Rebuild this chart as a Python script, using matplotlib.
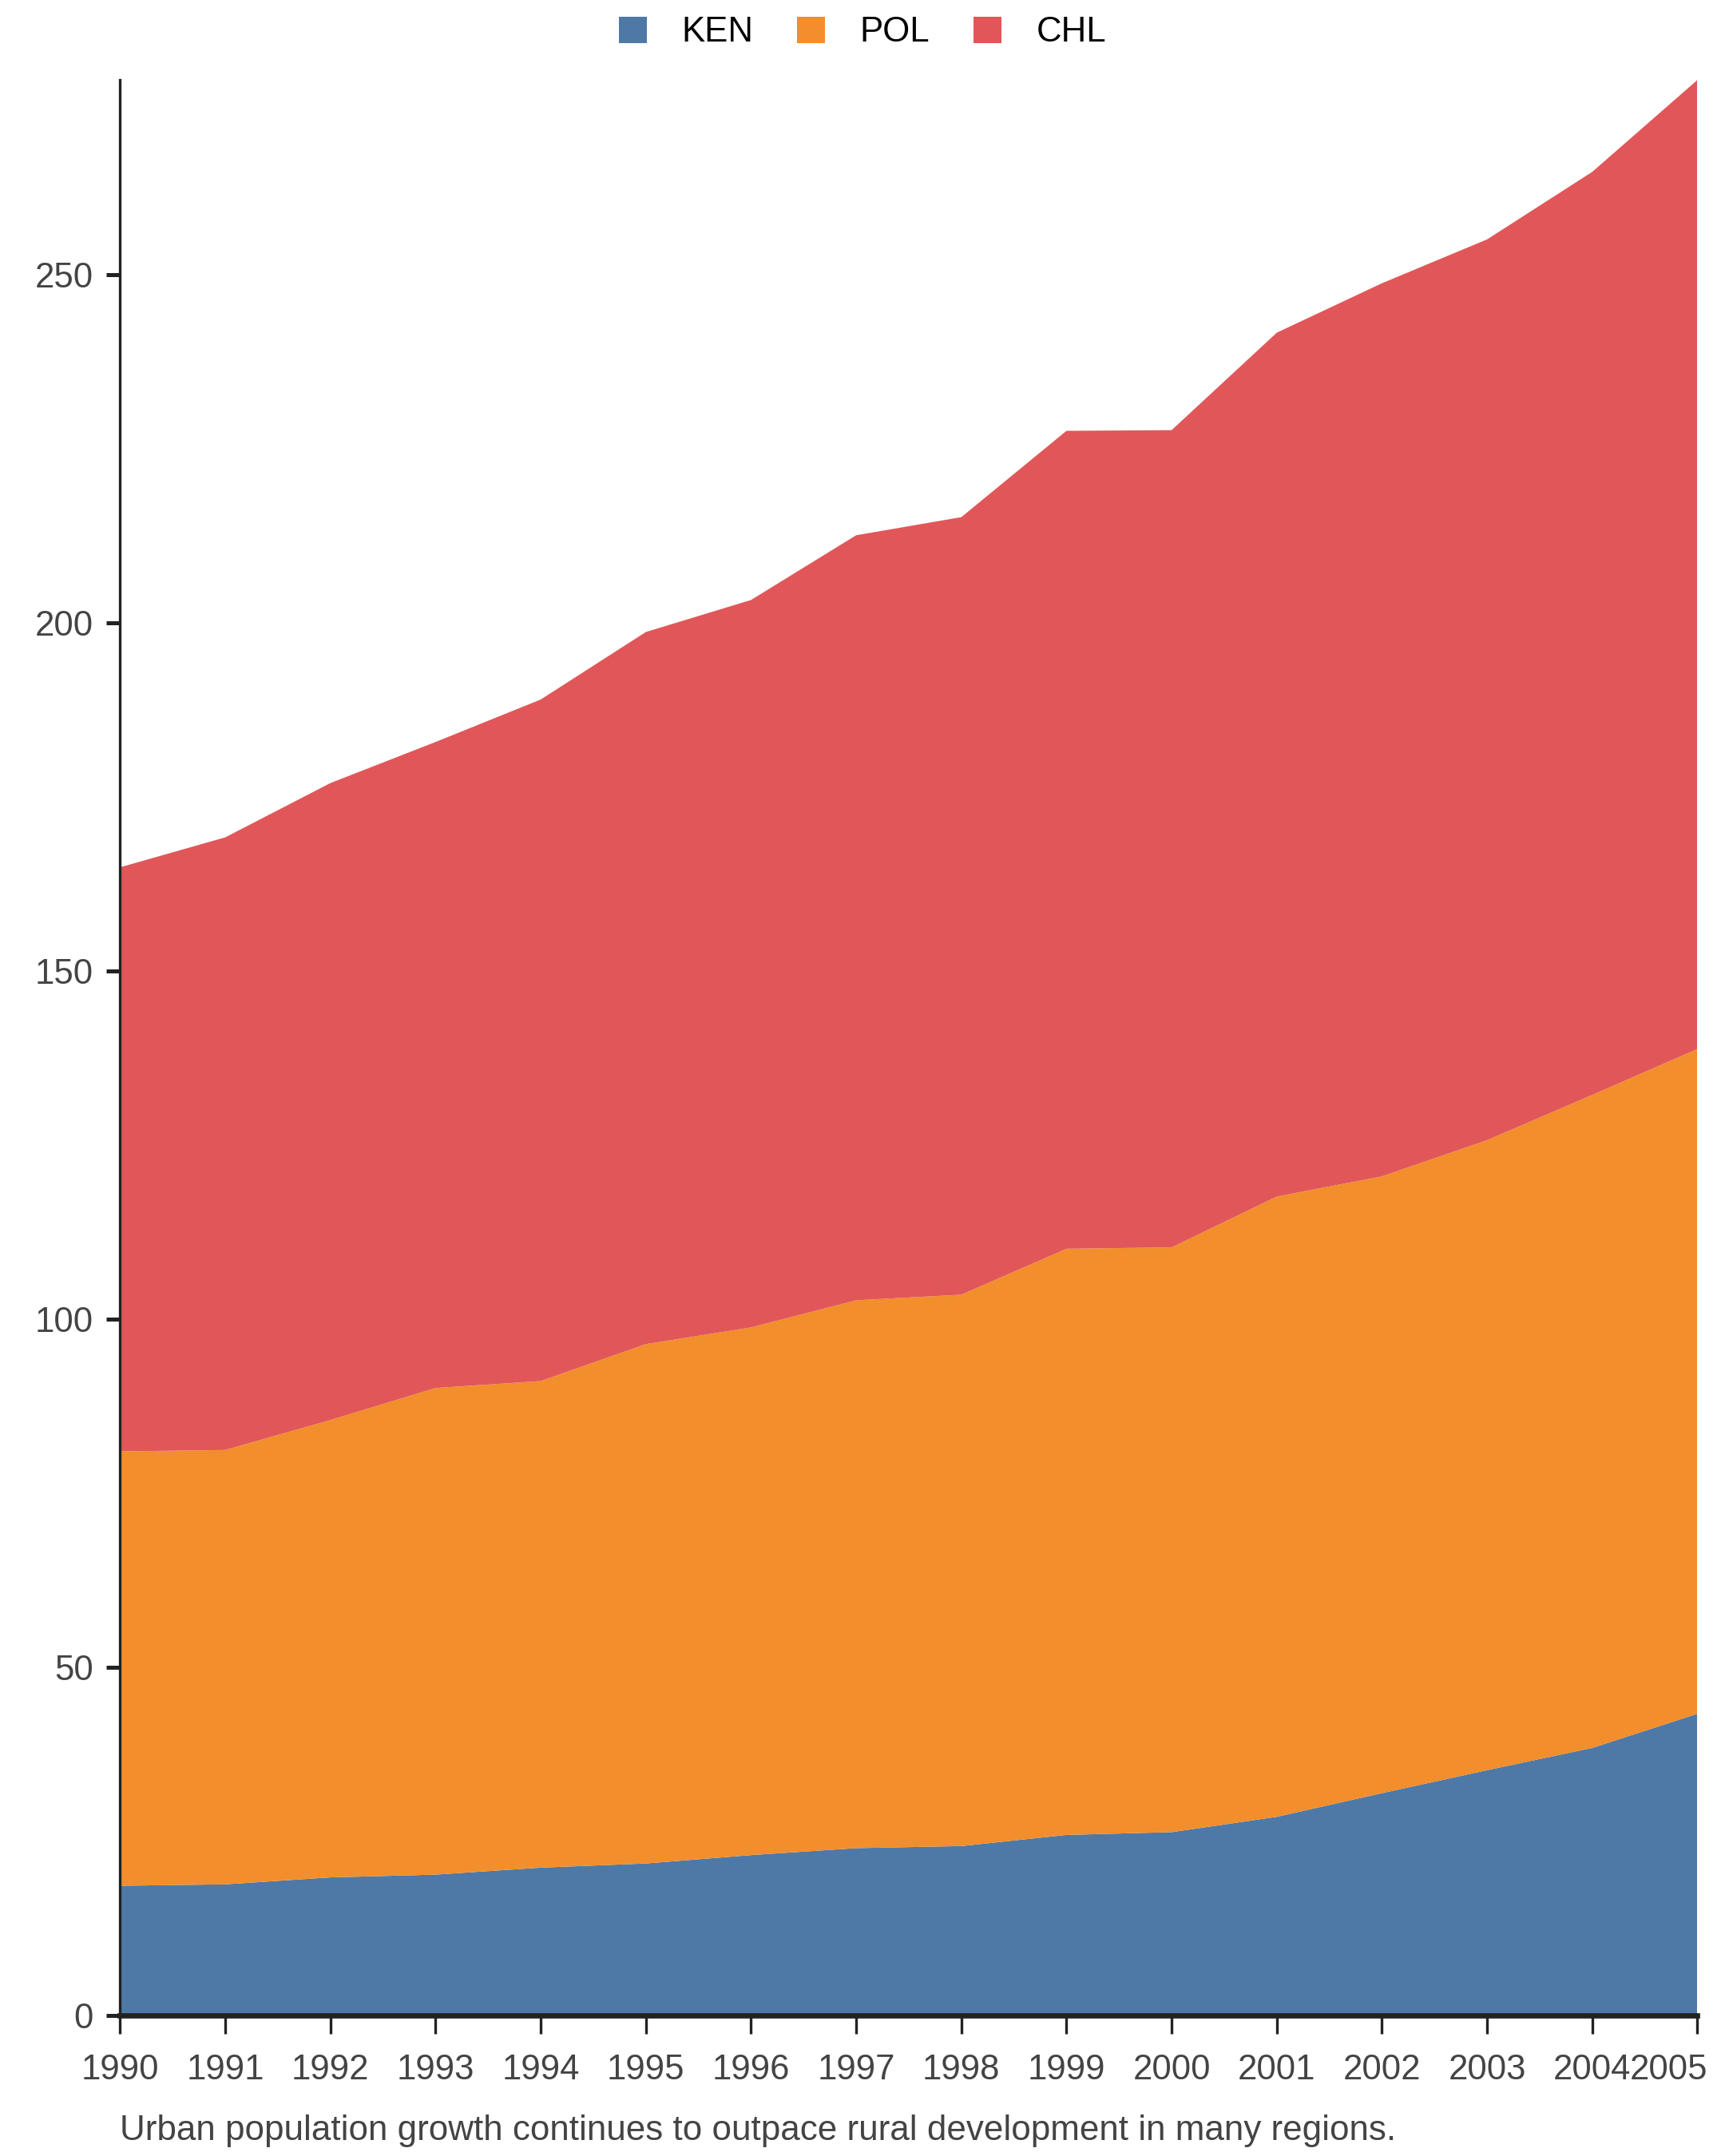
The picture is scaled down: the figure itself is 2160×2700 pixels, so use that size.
import numpy as np
import matplotlib.pyplot as plt
import matplotlib.transforms as mtransforms

plt.rcParams['font.family'] = ['Liberation Sans', 'DejaVu Sans']

# Data (stacked urban population, per country)
years = list(range(1990, 2006))
ken = [18.6, 18.8, 19.8, 20.2, 21.2, 21.8, 23.0, 24.0, 24.3, 25.9, 26.3, 28.5, 31.9, 35.2, 38.4, 43.3]
pol_top = [81.0, 81.2, 85.5, 90.1, 91.1, 96.4, 98.8, 102.7, 103.5, 110.1, 110.3, 117.6, 120.5, 125.7, 132.2, 138.8]
chl_top = [164.9, 169.2, 177.0, 182.9, 189.0, 198.7, 203.3, 212.6, 215.2, 227.6, 227.7, 241.7, 248.8, 255.1, 264.8, 278.0]
pol = [p - k for p, k in zip(pol_top, ken)]
chl = [c - p for c, p in zip(chl_top, pol_top)]

labels = ['KEN', 'POL', 'CHL']
colors = ['#4e79a7', '#f28e2b', '#e15759']
caption = 'Urban population growth continues to outpace rural development in many regions.'

fig = plt.figure(figsize=(7.2, 9), dpi=300)
ax = fig.add_axes([0.0696, 0.0653, 0.9144, 0.8976])

ax.stackplot(years, ken, pol, chl, colors=colors, labels=labels, linewidth=0)

ax.set_xlim(1990, 2005)
ax.set_ylim(0, max(chl_top))
ax.set_xticks(years)
ax.set_xticklabels([str(y) for y in years])
ax.set_yticks([0, 50, 100, 150, 200, 250])

for s in ['top', 'right']:
    ax.spines[s].set_visible(False)
ax.spines['left'].set_linewidth(0.8)
ax.spines['bottom'].set_linewidth(1.6)
ax.spines['left'].set_color('#222222')
ax.spines['bottom'].set_color('#222222')

ax.tick_params(axis='x', length=5.5, width=0.8, pad=6, labelsize=10.5, colors='#222222', labelcolor='#444444')
ax.tick_params(axis='y', length=4, width=1.2, pad=4, labelsize=10.5, colors='#222222', labelcolor='#444444')

# last year label pushed inside the figure like the reference
last = ax.get_xticklabels()[-1]
last.set_horizontalalignment('right')
last.set_transform(last.get_transform() + mtransforms.ScaledTranslation(3 / 72, 0, fig.dpi_scale_trans))

leg = fig.legend(loc='upper center', bbox_to_anchor=(0.5, 1.007), ncol=3, frameon=False,
                 fontsize=10.5, handlelength=0.8, handleheight=0.8, handletextpad=1.0,
                 columnspacing=1.25)

fig.text(0.0696, 0.0115, caption, fontsize=10.55, color='#444444', ha='left', va='center')

fig.savefig('out.png', dpi=300)
